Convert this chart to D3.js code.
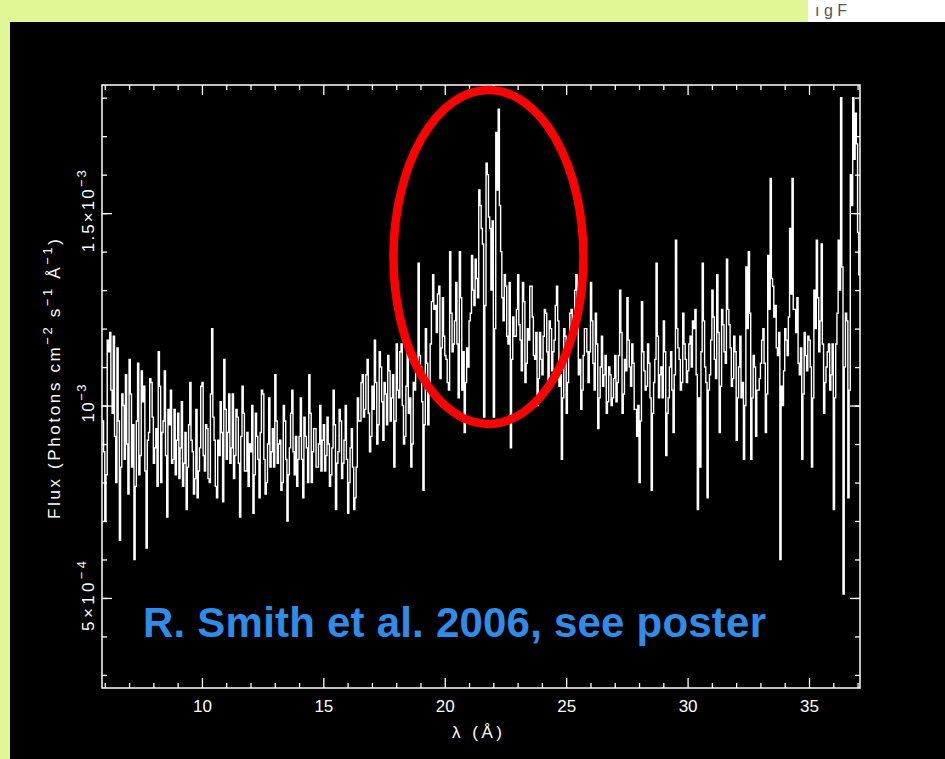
<!DOCTYPE html>
<html><head><meta charset="utf-8">
<script src="https://cdn.jsdelivr.net/npm/d3@7"></script>
<style>html,body{margin:0;padding:0;background:#e1f795;} svg{display:block}</style>
</head><body><svg id="c" width="945" height="759"></svg>
<script>
// ---- data (flux in units of 1e-4 photons cm^-2 s^-1 Å^-1), bins of 0.05 Å starting at 5.9 Å
const binStart = 5.9;
const binWidth = 0.05;
const fluxE4 = [
  9.6,8.8, 7.0,8.2, 11.7,11.4, 11.9,10.4, 9.8,11.8, 9.2,8.0, 11.5,9.6, 6.5,8.4, 10.3,10.0, 8.6,10.8,
  9.0,7.7, 11.2,10.3, 8.4,9.5, 6.0,7.9, 9.6,11.1, 8.2,8.7, 10.9,10.1, 10.5,8.3, 6.3,9.1, 9.3,10.7,
  10.6,9.7, 8.5,8.9, 9.4,7.9, 11.4,10.5, 8.0,9.3, 9.6,10.9, 8.7,7.1, 9.9,9.5, 10.4,8.5, 8.6,9.9,
  8.2,9.1, 9.8,8.1, 8.9,10.1, 7.9,8.5, 9.3,7.3, 8.4,9.5, 10.6,9.1, 8.8,7.7, 8.1,9.9, 7.6,8.3,
  8.9,10.5, 10.6,8.7, 8.3,9.5, 9.4,8.1, 8.0,10.3, 12.0,9.7, 9.1,7.9, 7.6,9.1, 8.7,10.1, 9.3,7.5,
  11.2,9.9, 8.6,9.3, 10.3,8.5, 8.9,10.3, 8.1,8.7, 9.9,9.7, 8.5,7.1, 9.2,10.5, 9.8,8.3, 8.3,9.3,
  7.9,9.0, 8.8,10.0, 7.2,8.2, 9.8,9.2, 8.6,7.6, 9.3,10.4, 10.3,8.6, 7.7,8.0, 9.0,10.2, 8.4,8.8,
  9.4,8.4, 10.8,9.6, 8.5,9.0, 9.1,7.8, 8.0,10.0, 9.6,8.6, 7.0,8.2, 8.9,9.8, 10.4,8.8, 8.2,9.2,
  7.9,8.6, 9.2,10.2, 8.6,7.6, 9.7,9.2, 8.9,8.0, 10.8,9.8, 8.0,8.8, 9.4,9.4, 8.4,8.4, 9.0,10.0,
  8.3,9.1, 9.5,8.3, 8.7,9.7, 9.0,7.9, 8.2,8.9, 10.4,9.5, 7.3,8.5, 8.8,9.9, 9.6,8.1, 8.5,9.1,
  10.0,8.6, 7.2,8.0, 8.9,9.4, 8.4,7.3, 7.6,8.4, 10.2,9.6, 9.6,10.6, 10.8,9.7, 9.9,10.8, 11.2,9.8,
  8.8,9.2, 10.5,9.9, 11.7,10.6, 9.0,9.5, 11.4,11.0, 10.1,9.1, 10.6,10.3, 9.5,11.3, 10.9,9.6, 10.2,10.8,
  8.4,9.6, 11.6,10.4, 10.2,11.4, 11.6,10.0, 9.0,9.2, 10.5,11.6, 9.8,10.2, 8.4,9.0, 10.6,10.4, 11.0,11.0,
  13.7,11.3, 11.0,10.1, 7.8,9.5, 12.0,11.1, 9.5,10.5, 11.6,12.7, 13.4,12.5, 12.6,11.9, 12.9,13.1, 10.7,11.5,
  12.8,11.8, 11.3,11.2, 10.6,10.4, 14.0,12.4, 11.4,11.6, 12.2,13.2, 11.6,10.2, 14.0,12.8, 10.4,11.4, 9.3,10.6,
  11.5,11.0, 12.2,12.4, 13.9,13.0, 12.6,13.8, 13.3,12.8, 15.6,15.2, 14.6,14.2, 9.7,12.6, 16.3,16.0, 14.9,14.6,
  13.0,14.8, 9.7,12.0, 17.1,15.6, 17.7,15.2, 14.0,12.8, 12.2,13.4, 13.1,11.8, 11.6,13.2, 8.9,11.2, 12.3,11.8,
  11.8,12.5, 13.4,12.1, 11.7,10.9, 13.2,12.7, 10.6,11.1, 12.0,11.7, 13.1,13.1, 12.3,11.3, 11.2,11.9, 10.0,10.7,
  11.9,11.2, 10.8,11.8, 12.5,12.4, 11.4,10.6, 12.2,12.0, 10.9,11.4, 11.7,12.6, 13.1,12.2, 10.5,10.8, 8.6,10.2,
  12.0,11.8, 9.8,10.6, 11.4,12.4, 12.5,12.0, 11.9,13.0, 13.4,12.2, 10.8,11.2, 9.9,10.4, 11.3,12.0, 12.0,11.4,
  10.6,11.4, 13.2,12.2, 11.1,10.4, 12.4,11.6, 9.4,10.2, 11.0,11.8, 10.5,10.8, 11.3,9.8, 10.1,11.0, 10.8,10.0,
  10.2,10.7, 11.3,10.1, 10.6,11.3, 13.0,11.9, 9.8,10.3, 11.2,10.9, 12.8,11.7, 11.0,10.5, 11.6,11.1, 9.9,9.9,
  9.2,10.0, 8.0,9.6, 12.7,11.4, 10.9,10.4, 10.5,11.6, 11.1,10.2, 7.8,9.8, 10.6,11.2, 13.7,11.8, 10.2,10.8,
  11.0,10.2, 12.2,11.4, 8.7,9.8, 10.2,11.0, 11.4,10.4, 9.3,10.8, 14.3,12.0, 11.5,11.2, 10.4,10.6, 12.4,11.6,
  11.2,10.6, 10.9,11.6, 11.8,11.0, 12.2,12.0, 12.5,10.8, 7.3,10.2, 8.4,11.4, 13.7,12.2, 11.0,10.6, 7.6,10.4,
  10.8,11.7, 13.0,12.3, 11.2,10.7, 13.4,11.9, 9.3,10.5, 12.5,12.1, 11.4,11.1, 13.8,12.5, 12.1,11.5, 10.5,10.7,
  11.8,11.4, 9.1,10.2, 11.0,11.8, 10.2,10.6, 8.6,10.0, 13.6,12.0, 14.0,12.4, 8.6,10.2, 11.3,11.0, 9.2,10.4,
  10.4,10.7, 11.1,11.7, 12.0,11.1, 9.3,10.3, 13.9,12.5, 15.9,13.3, 13.1,12.3, 12.6,11.5, 11.3,11.9, 6.0,10.5,
  10.0,10.9, 12.0,11.7, 11.3,12.3, 14.6,12.9, 15.9,12.5, 12.5,11.9, 12.8,11.1, 10.8,11.5, 8.6,10.3, 11.9,11.3,
  10.9,11.8, 11.7,11.0, 8.4,10.2, 13.0,12.0, 14.3,12.8, 11.4,12.2, 14.2,11.6, 9.8,10.6, 11.0,11.4, 11.6,10.4,
  10.8,11.6, 7.3,10.2, 11.6,12.4, 14.3,13.0, 18.0,13.6, 5.1,11.0, 12.4,12.2, 7.6,10.4, 16.0,15.2, 18.0,16.4,
  17.6,16.8, 14.5,13.4
];
const xDomain = [5.885, 37.1];
const yDomain = [2.66e-4, 1.833e-3];
const xMajorTicks = [10, 15, 20, 25, 30, 35];
const yMajorTicks = [5e-4, 1e-3, 1.5e-3];
const yTickMantissa = ["5×10", "10", "1.5×10"];
const yTickExponent = ["−4", "−3", "−3"];
const xTitle = "λ (Å)";
const noteText = "R. Smith et al. 2006, see poster";

// ---- layout
const W = 945, H = 759;
const plot = {left: 102, right: 860, top: 85, bottom: 688};
const svg = d3.select("#c");
const defs = svg.append("defs");

svg.append("rect").attr("x", 0).attr("y", 0).attr("width", W).attr("height", H).attr("fill", "#e1f795");
// white strip top right with small text
svg.append("rect").attr("x", 808).attr("y", 0).attr("width", 137).attr("height", 22).attr("fill", "#ffffff");
svg.append("text").attr("x", 815).attr("y", 16)
  .attr("font-family", "Liberation Sans, Arial, sans-serif").attr("font-size", 16).attr("fill", "#555")
  .text("ı        g  F");

svg.append("rect").attr("x", 10).attr("y", 22).attr("width", W - 10).attr("height", H - 22).attr("fill", "#000");

defs.append("clipPath").attr("id", "plotclip")
  .append("rect").attr("x", plot.left).attr("y", plot.top)
  .attr("width", plot.right - plot.left).attr("height", plot.bottom - plot.top);

const x = d3.scaleLinear().domain(xDomain).range([plot.left, plot.right]);
const y = d3.scaleLinear().domain(yDomain).range([plot.bottom, plot.top]);

// ---- spectrum as step line
const pts = fluxE4.map((v, i) => [binStart + i * binWidth, v * 1e-4]);
pts.push([binStart + fluxE4.length * binWidth, fluxE4[fluxE4.length - 1] * 1e-4]);
const line = d3.line().x(d => x(d[0])).y(d => y(d[1])).curve(d3.curveStepAfter);
svg.append("g").attr("clip-path", "url(#plotclip)")
  .append("path").attr("d", line(pts)).attr("fill", "none")
  .attr("stroke", "#fff").attr("stroke-width", 1.4);

// ---- axes (ticks inward on all four sides)
const font = "Liberation Sans, Arial, Helvetica, sans-serif";
const xMinor = d3.range(6, 38, 1).filter(v => v % 5 !== 0 && v <= 37);
const yMinor = d3.range(3, 19, 1).map(v => v * 1e-4).filter(v => v <= yDomain[1]);

function styleAxis(g) {
  g.select(".domain").remove();
  g.selectAll("line").attr("stroke", "#fff").attr("stroke-width", 1.3);
  g.selectAll("text").attr("fill", "#fff").attr("font-family", font).attr("font-size", 17);
}
svg.append("g").attr("transform", `translate(0,${plot.bottom})`)
  .call(d3.axisBottom(x).tickValues(xMajorTicks).tickSize(-10).tickPadding(12).tickFormat(d3.format("d"))).call(styleAxis);
svg.append("g").attr("transform", `translate(0,${plot.bottom})`)
  .call(d3.axisBottom(x).tickValues(xMinor).tickSize(-5).tickFormat("")).call(styleAxis);
svg.append("g").attr("transform", `translate(0,${plot.top})`)
  .call(d3.axisTop(x).tickValues(xMajorTicks).tickSize(-10).tickFormat("")).call(styleAxis);
svg.append("g").attr("transform", `translate(0,${plot.top})`)
  .call(d3.axisTop(x).tickValues(xMinor).tickSize(-5).tickFormat("")).call(styleAxis);
svg.append("g").attr("transform", `translate(${plot.left},0)`)
  .call(d3.axisLeft(y).tickValues(yMajorTicks).tickSize(-10).tickFormat("")).call(styleAxis);
svg.append("g").attr("transform", `translate(${plot.left},0)`)
  .call(d3.axisLeft(y).tickValues(yMinor).tickSize(-5).tickFormat("")).call(styleAxis);
svg.append("g").attr("transform", `translate(${plot.right},0)`)
  .call(d3.axisRight(y).tickValues(yMajorTicks).tickSize(-10).tickFormat("")).call(styleAxis);
svg.append("g").attr("transform", `translate(${plot.right},0)`)
  .call(d3.axisRight(y).tickValues(yMinor).tickSize(-5).tickFormat("")).call(styleAxis);

svg.append("rect").attr("x", plot.left).attr("y", plot.top)
  .attr("width", plot.right - plot.left).attr("height", plot.bottom - plot.top)
  .attr("fill", "none").attr("stroke", "#fff").attr("stroke-width", 1.5);

// y tick labels (rotated)
const yLabelLen = [70, 38, 82];
yMajorTicks.forEach((v, i) => {
  const t = svg.append("text")
    .attr("transform", `translate(94,${y(v) - 2}) rotate(-90)`)
    .attr("text-anchor", "middle").attr("fill", "#fff")
    .attr("font-family", font).attr("font-size", 17)
    .attr("textLength", yLabelLen[i]).attr("lengthAdjust", "spacing");
  t.append("tspan").text(yTickMantissa[i]);
  t.append("tspan").attr("dy", -8).attr("font-size", 13).text(yTickExponent[i]);
});

// y title
const yt = svg.append("text")
  .attr("transform", `translate(60,379) rotate(-90)`)
  .attr("text-anchor", "middle").attr("fill", "#fff")
  .attr("font-family", font).attr("font-size", 17)
  .attr("textLength", 280).attr("lengthAdjust", "spacing");
yt.append("tspan").text("Flux (Photons cm");
yt.append("tspan").attr("dy", -8).attr("font-size", 13).text("−2");
yt.append("tspan").attr("dy", 8).text(" s");
yt.append("tspan").attr("dy", -8).attr("font-size", 13).text("−1");
yt.append("tspan").attr("dy", 8).text(" Å");
yt.append("tspan").attr("dy", -8).attr("font-size", 13).text("−1");
yt.append("tspan").attr("dy", 8).text(")");

// x title
svg.append("text").attr("x", 477).attr("y", 738)
  .attr("text-anchor", "middle").attr("fill", "#fff")
  .attr("font-family", font).attr("font-size", 17)
  .attr("textLength", 50).attr("lengthAdjust", "spacing").text(xTitle);

// red ellipse annotation
svg.append("ellipse").attr("cx", x(21.8)).attr("cy", y(1.386e-3))
  .attr("rx", 95).attr("ry", 167)
  .attr("fill", "none").attr("stroke", "#ff0000").attr("stroke-width", 8.5);

// blue note
svg.append("text").attr("x", 143).attr("y", 637)
  .attr("fill", "#2f8ce8").attr("font-family", font).attr("font-weight", "bold")
  .attr("font-size", 42).attr("textLength", 623).attr("lengthAdjust", "spacing").text(noteText);
</script></body></html>
